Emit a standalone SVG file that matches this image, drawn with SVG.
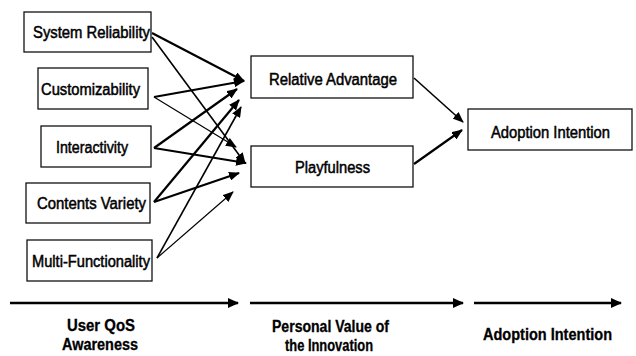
<svg xmlns="http://www.w3.org/2000/svg" width="636" height="356" viewBox="0 0 636 356">
  <style>
    .box { fill: #ffffff; stroke: #111111; stroke-width: 1.3; }
    .lbl { font-family: "Liberation Sans", Arial, sans-serif; font-size: 16px; fill: #000000; stroke: #000000; stroke-width: 0.5; text-anchor: middle; }
    .stage { font-family: "Liberation Sans", Arial, sans-serif; font-size: 16px; font-weight: bold; fill: #000000; stroke: #000000; stroke-width: 0.3; text-anchor: middle; }
    .thick { stroke: #000000; stroke-width: 2.2; fill: none; marker-end: url(#head); }
    .mid { stroke: #000000; stroke-width: 1.6; fill: none; marker-end: url(#head); }
    .thin { stroke: #000000; stroke-width: 1.2; fill: none; marker-end: url(#head); }
    .axis { stroke: #000000; stroke-width: 2.6; fill: none; marker-end: url(#axhead); }
  </style>
  <defs>
    <marker id="head" markerUnits="userSpaceOnUse" markerWidth="11" markerHeight="9" refX="10" refY="4.5" orient="auto">
      <path d="M0,0 L11,4.5 L0,9 z" fill="#000000"/>
    </marker>
    <marker id="axhead" markerUnits="userSpaceOnUse" markerWidth="11" markerHeight="10" refX="10" refY="5" orient="auto">
      <path d="M0,0 L11,5 L0,10 z" fill="#000000"/>
    </marker>
  </defs>

  <rect width="636" height="356" fill="#ffffff"/>

  <!-- connectors -->
  <g id="connectors">
    <!-- System Reliability -->
    <line class="thick" x1="152" y1="33" x2="244" y2="81"/>
    <line class="mid" x1="152" y1="37" x2="245" y2="163"/>
    <!-- Customizability -->
    <line class="thick" x1="154" y1="97" x2="244" y2="81"/>
    <line class="thin" x1="154" y1="97" x2="236" y2="147"/>
    <!-- Interactivity -->
    <line class="thick" x1="154" y1="148" x2="237" y2="89"/>
    <line class="thick" x1="154" y1="148" x2="246" y2="163"/>
    <!-- Contents Variety -->
    <line class="thick" x1="154" y1="202" x2="239" y2="100"/>
    <line class="thick" x1="154" y1="202" x2="239" y2="173"/>
    <!-- Multi-Functionality -->
    <line class="mid" x1="157" y1="258" x2="241" y2="107"/>
    <line class="thin" x1="157" y1="258" x2="233" y2="192"/>
    <!-- personal value to adoption -->
    <line class="mid" x1="414" y1="78" x2="463" y2="122"/>
    <line class="thick" x1="414" y1="164" x2="462" y2="130"/>
    <!-- stage axis -->
    <line class="axis" x1="10" y1="303" x2="238" y2="303"/>
    <line class="axis" x1="250" y1="303" x2="463" y2="303"/>
    <line class="axis" x1="474" y1="303" x2="621" y2="303"/>
  </g>

  <!-- QoS awareness factors -->
  <g id="system-reliability">
    <rect class="box" x="24" y="12" width="127" height="40"/>
    <text class="lbl" x="91.5" y="38" textLength="117" lengthAdjust="spacingAndGlyphs">System Reliability</text>
  </g>
  <g id="customizability">
    <rect class="box" x="38" y="68" width="110" height="41"/>
    <text class="lbl" x="90.5" y="95" textLength="99" lengthAdjust="spacingAndGlyphs">Customizability</text>
  </g>
  <g id="interactivity">
    <rect class="box" x="41" y="126" width="110" height="41"/>
    <text class="lbl" x="92" y="153" textLength="72" lengthAdjust="spacingAndGlyphs">Interactivity</text>
  </g>
  <g id="contents-variety">
    <rect class="box" x="26" y="183" width="124" height="40"/>
    <text class="lbl" x="91.5" y="209" textLength="109" lengthAdjust="spacingAndGlyphs">Contents Variety</text>
  </g>
  <g id="multi-functionality">
    <rect class="box" x="27" y="240" width="125" height="41"/>
    <text class="lbl" x="91" y="267" textLength="118" lengthAdjust="spacingAndGlyphs">Multi-Functionality</text>
  </g>

  <!-- personal value -->
  <g id="relative-advantage">
    <rect class="box" x="251" y="56" width="162" height="42"/>
    <text class="lbl" x="333" y="85" textLength="128" lengthAdjust="spacingAndGlyphs">Relative Advantage</text>
  </g>
  <g id="playfulness">
    <rect class="box" x="251" y="146" width="162" height="41"/>
    <text class="lbl" x="332.5" y="173" textLength="75" lengthAdjust="spacingAndGlyphs">Playfulness</text>
  </g>

  <!-- outcome -->
  <g id="adoption-intention">
    <rect class="box" x="468" y="109" width="164" height="41"/>
    <text class="lbl" x="550.5" y="138" textLength="119" lengthAdjust="spacingAndGlyphs">Adoption Intention</text>
  </g>

  <!-- stage captions -->
  <g id="stage-labels">
    <text class="stage" x="101" y="331" textLength="68" lengthAdjust="spacingAndGlyphs">User QoS</text>
    <text class="stage" x="100" y="350" textLength="76" lengthAdjust="spacingAndGlyphs">Awareness</text>
    <text class="stage" x="330.5" y="332" textLength="117" lengthAdjust="spacingAndGlyphs">Personal Value of</text>
    <text class="stage" x="329" y="351" textLength="88" lengthAdjust="spacingAndGlyphs">the Innovation</text>
    <text class="stage" x="547.5" y="340" textLength="129" lengthAdjust="spacingAndGlyphs">Adoption Intention</text>
  </g>
</svg>
